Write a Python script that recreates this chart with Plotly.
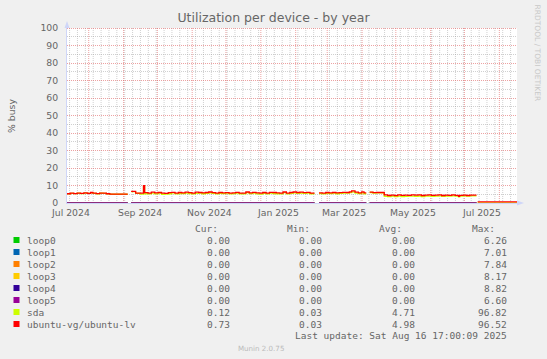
import math
import pandas as pd
import plotly.graph_objects as go

# ---------------- data ----------------
start = pd.Timestamp("2024-07-12 17:00")
end = pd.Timestamp("2025-08-16 17:00")

# day offsets from start (x positions of samples)
day_offsets = [0, 3, 6, 9, 12, 15, 18, 21, 23, 26, 29, 32, 35, 38, 54, 55,
               57, 61, 65, 68, 69, 72, 75, 78, 81, 84, 87, 90, 93, 96, 99, 102, 105, 108,
               111, 114, 117, 120, 123, 126, 129, 132, 135, 138, 141, 144, 147, 150, 153,
               156, 159, 162, 165, 168, 171, 174, 177, 180, 183, 186, 189, 192, 195, 198,
               201, 204, 207, 210, 213, 216, 220, 221,
               224, 227, 230, 233, 236, 239, 242, 245, 248, 251, 253, 256, 259, 262, 264, 266, 267,
               269, 272, 275, 281, 282, 285, 288, 291, 294, 297, 300, 303, 306, 309, 312,
               315, 318, 321, 324, 327, 330, 333, 336, 339, 342, 345, 348, 349, 352, 355,
               358, 364, 364.5, 365, 400]

lv_vals = [5.3, 5.6, 5.4, 5.7, 5.5, 5.8, 5.5, 6.0, 5.6, 5.4, 5.7, 5.6, 5.3, 5.1, 5.1, None,
           6.6, 5.7, 5.6, 9.9, 5.9, 5.6, 6.2, 5.8, 6.0, 5.6, 5.5, 5.9, 6.1, 5.7, 6.0, 5.8, 6.2, 5.9,
           5.7, 6.2, 6.0, 5.8, 6.0, 6.3, 5.9, 5.7, 6.0, 5.8, 5.9, 5.6, 5.8, 6.1, 5.7,
           5.6, 6.3, 5.8, 6.1, 5.8, 5.6, 6.0, 5.7, 6.1, 6.0, 5.8, 5.7, 6.3, 5.7, 6.0,
           6.3, 6.0, 6.2, 5.9, 6.1, 5.7, 5.7, None,
           5.8, 5.6, 6.0, 5.8, 6.0, 5.8, 5.9, 6.1, 6.0, 6.4, 6.9, 6.2, 5.8, 6.4, 5.8, 5.8, None,
           6.2, 5.9, 6.0, 6.0, 4.6, 4.3, 4.5, 4.2, 4.6, 4.4, 4.5, 4.4, 4.7, 4.5, 4.6,
           4.3, 4.5, 4.7, 4.4, 4.5, 4.6, 4.3, 4.5, 4.4, 4.6, 4.4, 3.8, 4.4, 4.5, 4.3,
           4.5, 4.5, None, 0.6, 0.7]

sda_vals = [5.3, 5.5, 5.4, 5.6, 5.4, 5.7, 5.5, 5.9, 5.5, 5.3, 5.6, 5.5, 5.2, 5.0, 5.0, None,
            6.5, 5.5, 5.1, 9.6, 5.3, 5.2, 5.7, 5.2, 5.6, 5.0, 5.1, 5.3, 5.8, 5.2, 5.4, 5.4, 5.6, 5.4,
            5.2, 5.5, 5.6, 5.3, 5.5, 5.8, 5.5, 5.2, 5.5, 5.4, 5.6, 5.2, 5.4, 5.6, 5.3,
            5.2, 5.9, 5.4, 5.7, 5.2, 5.1, 5.5, 5.2, 5.6, 5.4, 5.3, 5.2, 5.9, 5.2, 5.5,
            5.8, 5.5, 5.6, 5.5, 5.6, 5.3, 5.3, None,
            5.4, 5.2, 5.5, 5.4, 5.6, 5.3, 5.5, 5.6, 5.7, 5.9, 6.4, 5.6, 5.4, 5.9, 5.3, 5.3, None,
            6.0, 5.7, 5.8, 5.8, 3.8, 3.7, 3.9, 3.6, 3.9, 3.7, 3.8, 3.9, 3.9, 3.8, 4.0,
            3.7, 3.9, 4.0, 3.8, 3.9, 4.1, 3.8, 4.0, 3.9, 4.1, 3.9, 3.5, 4.0, 4.1, 3.9,
            4.1, 4.1, None, 0.1, 0.1]

# loop devices: zero while present, missing in the gaps
loop_day_offsets = [0, 54, 55, 57, 220, 221, 224, 266, 267, 269, 364]
loop_vals = [0, 0, None, 0, 0, None, 0, 0, None, 0, 0]

series_names = ["loop0", "loop1", "loop2", "loop3", "loop4", "loop5", "sda", "ubuntu-vg/ubuntu-lv"]
series_colors = ["#00CC00", "#0066B3", "#FF8000", "#FFCC00", "#330099", "#990099", "#CCFF00", "#FF0000"]
cur_vals = ["0.00", "0.00", "0.00", "0.00", "0.00", "0.00", "0.12", "0.73"]
min_vals = ["0.00", "0.00", "0.00", "0.00", "0.00", "0.00", "0.03", "0.03"]
avg_vals = ["0.00", "0.00", "0.00", "0.00", "0.00", "0.00", "4.71", "4.98"]
max_vals = ["6.26", "7.01", "7.84", "8.17", "8.82", "6.60", "96.82", "96.52"]

x_label_dates = ["2024-07-16", "2024-09-16", "2024-11-16", "2025-01-16",
                 "2025-03-16", "2025-05-16", "2025-07-16"]
x_label_text = ["Jul 2024", "Sep 2024", "Nov 2024", "Jan 2025", "Mar 2025", "May 2025", "Jul 2025"]
y_ticks = [0, 10, 20, 30, 40, 50, 60, 70, 80, 90, 100]
y_minor = [5, 15, 25, 35, 45, 55, 65, 75, 85, 95]
month_grid = pd.date_range("2024-08-01", "2025-08-01", freq="MS")
week_grid = pd.date_range("2024-07-15", "2025-08-16", freq="7D")

# ---------------- layout geometry ----------------
W, H = 547, 359
PL, PR, PT, PB = 67, 517, 28, 203   # plot area in pixels


def px(x):
    return (x - PL) / (PR - PL)


def py(y):
    return (PB - y) / (PB - PT)


def grid_y(v):
    # snap a horizontal grid line onto a pixel row so the dotted line stays crisp
    row = math.floor(PB - v * (PB - PT) / 100.0)
    return py(row + 0.5)


dates = [start + pd.Timedelta(days=d) for d in day_offsets]
loop_dates = [start + pd.Timedelta(days=d) for d in loop_day_offsets]

FONT = "DejaVu Sans"
MONO = "DejaVu Sans Mono"
TXT = "#666666"
AXIS = "#CFD6F8"
MGRID = "rgba(225,100,100,0.6)"
GRID = "rgba(150,150,150,0.45)"

fig = go.Figure()
for i in range(6):
    fig.add_trace(go.Scatter(x=loop_dates, y=loop_vals, mode="lines", line_shape="hv",
                             line=dict(color=series_colors[i], width=1), connectgaps=False,
                             showlegend=False, hoverinfo="skip"))
fig.add_trace(go.Scatter(x=dates, y=sda_vals, mode="lines", line_shape="hv",
                         line=dict(color=series_colors[6], width=1.3), connectgaps=False,
                         showlegend=False, hoverinfo="skip"))
fig.add_trace(go.Scatter(x=dates, y=lv_vals, mode="lines", line_shape="hv",
                         line=dict(color=series_colors[7], width=1.3), connectgaps=False,
                         showlegend=False, hoverinfo="skip"))

fig.update_layout(
    width=W, height=H,
    margin=dict(l=PL, r=W - PR, t=PT, b=H - PB, pad=0),
    paper_bgcolor="#F0F0F0", plot_bgcolor="#FFFFFF",
    font=dict(family=FONT, size=9.3, color=TXT),
    title=dict(text="Utilization per device - by year", x=0.5, xref="container",
               xanchor="center", y=1 - 17.5 / H, yanchor="middle", yref="container",
               font=dict(family=FONT, size=12.5, color=TXT)),
    xaxis=dict(type="date", range=[start, end], showticklabels=False, ticks="",
               showgrid=False, zeroline=False, showline=True, linecolor=AXIS, linewidth=1),
    yaxis=dict(range=[0, 100], tickvals=y_ticks, ticks="", showgrid=False, zeroline=False,
               showline=True, linecolor=AXIS, linewidth=1, ticklabelstandoff=6,
               tickfont=dict(family=FONT, size=9.3, color=TXT)),
)

shapes = []
# grid (drawn below the data)
for d in week_grid:
    shapes.append(dict(type="line", xref="x", yref="paper", x0=d, x1=d, y0=0, y1=1, layer="below",
                       line=dict(color=GRID, width=1, dash="1px,1px")))
for v in y_minor:
    gy = grid_y(v)
    shapes.append(dict(type="line", xref="paper", yref="paper", x0=0, x1=1, y0=gy, y1=gy,
                       layer="below", line=dict(color=GRID, width=1, dash="1px,1px")))
for d in month_grid:
    shapes.append(dict(type="line", xref="x", yref="paper", x0=d, x1=d, y0=0, y1=1, layer="below",
                       line=dict(color=MGRID, width=1, dash="1px,1px")))
for v in y_ticks[1:]:
    gy = grid_y(v)
    shapes.append(dict(type="line", xref="paper", yref="paper", x0=0, x1=1, y0=gy, y1=gy,
                       layer="below", line=dict(color=MGRID, width=1, dash="1px,1px")))

ann = []
# x labels
for d, t in zip(x_label_dates, x_label_text):
    ann.append(dict(x=d, y=py(212), xref="x", yref="paper", text=t, showarrow=False,
                    xanchor="center", yanchor="middle", borderpad=0,
                    font=dict(family=FONT, size=9.3, color=TXT)))
# y title
ann.append(dict(x=px(11), y=py(116), xref="paper", yref="paper", text="% busy", showarrow=False,
                textangle=-90, xanchor="center", yanchor="middle",
                font=dict(family=FONT, size=9.3, color=TXT)))
# watermark
ann.append(dict(x=px(537.5), y=py(53), xref="paper", yref="paper", text="RRDTOOL / TOBI OETIKER",
                showarrow=False, textangle=90, xanchor="center", yanchor="middle",
                font=dict(family=FONT, size=7.5, color="#C8C8C8")))
# legend header
col_right_val = [231.7, 324, 416.7, 509]
col_right_hdr = [220, 312, 404, 497]
for xr, h in zip(col_right_hdr, ["Cur:", "Min:", "Avg:", "Max:"]):
    ann.append(dict(x=px(xr), y=py(228.3), xref="paper", yref="paper", text=h, showarrow=False,
                    xanchor="right", yanchor="middle", font=dict(family=MONO, size=9.5, color=TXT)))
for i, name in enumerate(series_names):
    yc = 240 + 12 * i
    ann.append(dict(x=px(25), y=py(yc), xref="paper", yref="paper", text=name, showarrow=False,
                    xanchor="left", yanchor="middle", font=dict(family=MONO, size=9.5, color=TXT)))
    for xr, v in zip(col_right_val, [cur_vals[i], min_vals[i], avg_vals[i], max_vals[i]]):
        ann.append(dict(x=px(xr), y=py(yc), xref="paper", yref="paper", text=v, showarrow=False,
                        xanchor="right", yanchor="middle", font=dict(family=MONO, size=9.5, color=TXT)))
    shapes.append(dict(type="rect", xref="paper", yref="paper", x0=px(13.5), x1=px(19.5),
                       y0=py(yc + 3), y1=py(yc - 3), fillcolor=series_colors[i], line=dict(width=0)))
ann.append(dict(x=px(509), y=py(335.5), xref="paper", yref="paper",
                text="Last update: Sat Aug 16 17:00:09 2025", showarrow=False,
                xanchor="right", yanchor="middle", font=dict(family=MONO, size=9.5, color=TXT)))
ann.append(dict(x=px(261), y=py(348.3), xref="paper", yref="paper", text="Munin 2.0.75",
                showarrow=False, xanchor="center", yanchor="middle",
                font=dict(family=FONT, size=7.1, color="#BBBBBB")))

# axis arrows
shapes.append(dict(type="path", xref="paper", yref="paper",
                   path=f"M {px(64.5)} {py(28)} L {px(69.5)} {py(28)} L {px(67)} {py(21)} Z",
                   fillcolor=AXIS, line=dict(width=0)))
shapes.append(dict(type="path", xref="paper", yref="paper",
                   path=f"M {px(517)} {py(200.5)} L {px(517)} {py(205.5)} L {px(524)} {py(203)} Z",
                   fillcolor=AXIS, line=dict(width=0)))

fig.update_layout(annotations=ann, shapes=shapes)
fig.write_html("out.html")
